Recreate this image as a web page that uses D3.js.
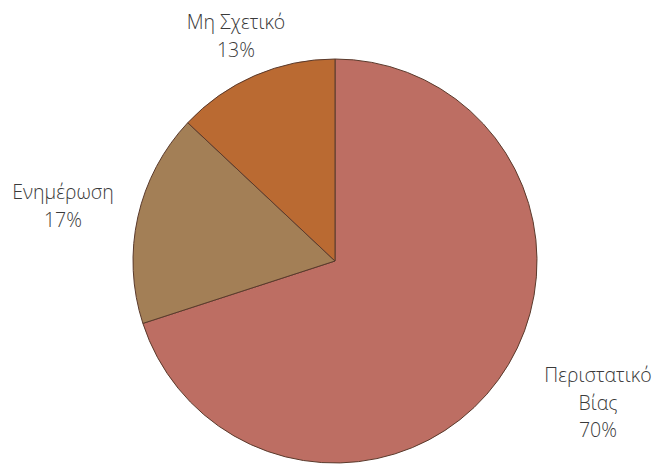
<!DOCTYPE html>
<html><head><meta charset="utf-8">
<script src="https://cdn.jsdelivr.net/npm/d3@7"></script>
<style>html,body{margin:0;padding:0;background:#fff;}</style>
</head><body>
<svg id="chart" width="657" height="465"></svg>
<script>
const categories = ["Περιστατικό Βίας", "Ενημέρωση", "Μη Σχετικό"];
const values = [70, 17, 13];
const labelLines = [["Περιστατικό", "Βίας", "70%"], ["Ενημέρωση", "17%"], ["Μη Σχετικό", "13%"]];
const colors = ["#BD6E63", "#A37F56", "#BA6A32"];

const svg = d3.select("#chart");
const cx = 335, cy = 261, r = 202;
const g = svg.append("g").attr("transform", `translate(${cx},${cy})`);
const pie = d3.pie().sort(null).value(d => d)(values);
const arc = d3.arc().innerRadius(0).outerRadius(r);
g.selectAll("path").data(pie).enter().append("path")
  .attr("d", arc)
  .attr("fill", (d,i) => colors[i])
  .attr("stroke", "#5a3a2c").attr("stroke-width", 1);

const labelPos = [[598, 382], [63, 199], [236, 29]];
const lh = 27.5;
labelLines.forEach((lines, i) => {
  const t = svg.append("text")
    .attr("x", labelPos[i][0]).attr("y", labelPos[i][1])
    .attr("text-anchor", "middle")
    .attr("font-family", "'Open Sans', sans-serif")
    .attr("font-weight", 300)
    .attr("font-size", 19.5)
    .attr("fill", "#3a3a3a");
  lines.forEach((ln, j) => {
    t.append("tspan").attr("x", labelPos[i][0]).attr("y", labelPos[i][1] + j*lh).text(ln);
  });
});
</script>
</body></html>
